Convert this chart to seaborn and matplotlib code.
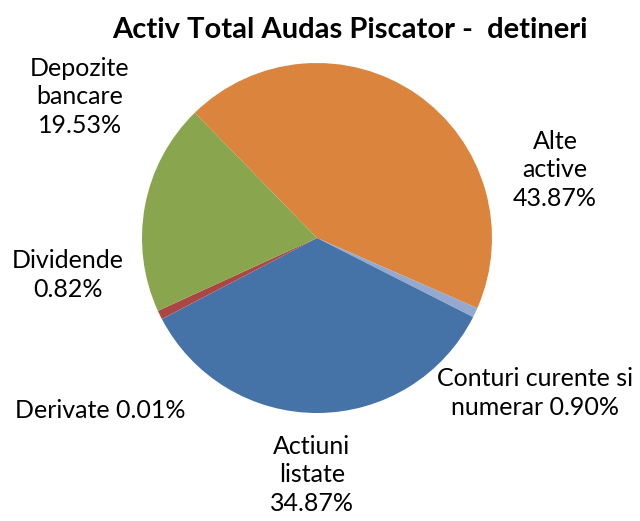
import matplotlib
matplotlib.use("Agg")
import matplotlib.pyplot as plt
import seaborn as sns

sns.set_theme(style="white")
plt.rcParams["font.family"] = ["Lato", "DejaVu Sans"]

# Slices, clockwise from the orange/green boundary
labels = ["Alte\nactive", "Conturi curente si\nnumerar", "Actiuni\nlistate",
          "Derivate", "Dividende", "Depozite\nbancare"]
values = [43.87, 0.90, 34.87, 0.01, 0.82, 19.53]
colors = ["#DB843D", "#93A9CF", "#4572A7", "#71588F", "#AA4643", "#89A54E"]
label_sep = ["\n", " ", "\n", " ", "\n", "\n"]
label_xy = [(1.36, 0.39), (1.246, -0.886), (-0.03, -1.354),
            (-1.24, -0.983), (-1.423, -0.211), (-1.354, 0.806)]

fig = plt.figure(figsize=(6.4, 5.21), dpi=100)
ax = fig.add_axes([0, 0, 1, 1])

ax.pie(values, colors=colors, startangle=134.3, counterclock=False,
       radius=1.0, wedgeprops=dict(linewidth=0))

for lab, v, sep, (x, y) in zip(labels, values, label_sep, label_xy):
    ax.text(x, y, f"{lab}{sep}{v:.2f}%", ha="center", va="center",
            fontsize=18, color="black", linespacing=1.3)

ax.set_xlim(-317 / 175, (640 - 317) / 175)
ax.set_ylim(-(521 - 238) / 175, 238 / 175)
ax.set_aspect("auto")
ax.axis("off")

fig.text(350 / 640, 1 - 30 / 521, "Activ Total Audas Piscator -  detineri",
         ha="center", va="center", fontsize=21, fontweight="bold", color="black")

fig.savefig("out.png", dpi=100)
